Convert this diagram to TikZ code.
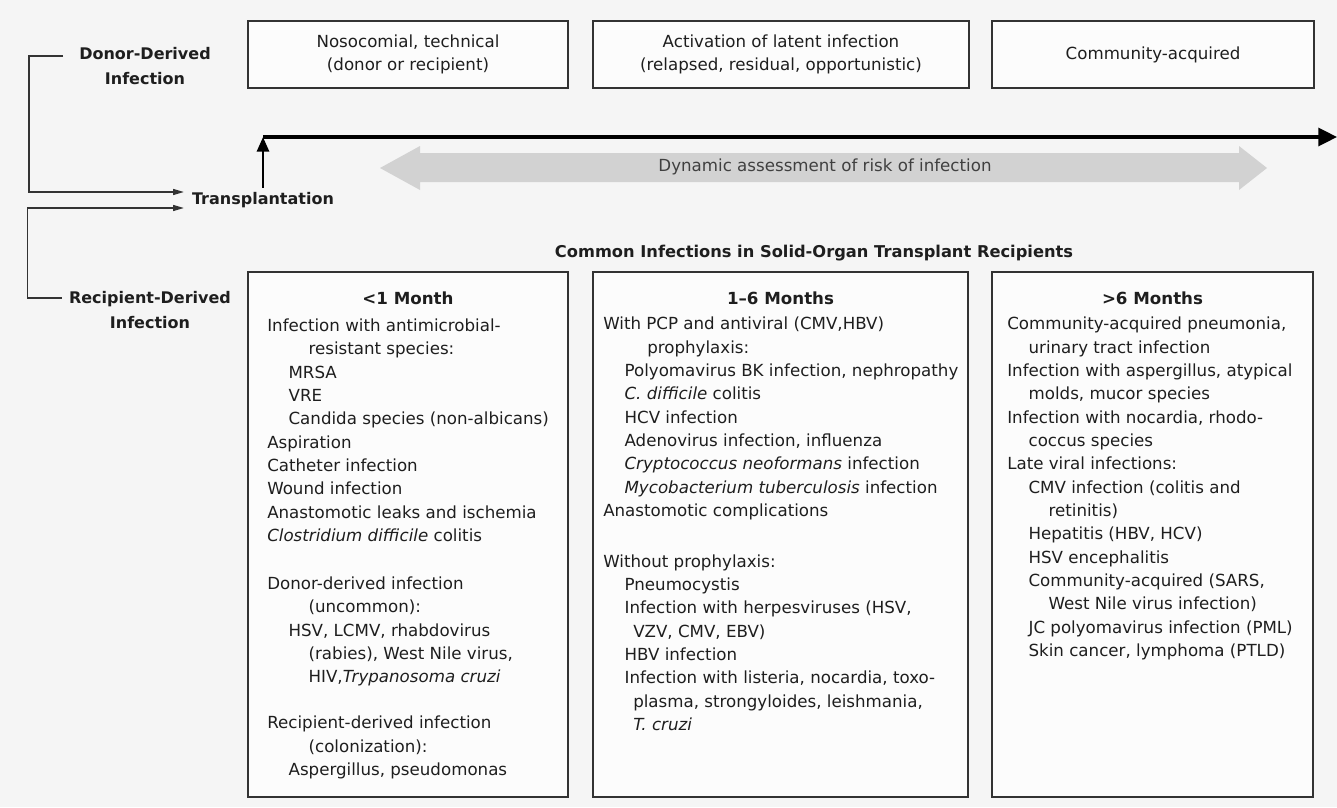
\documentclass[tikz,border=0pt]{standalone}
\usepackage{fontspec}
\setmainfont{DejaVu Sans}
\usetikzlibrary{positioning,calc,arrows.meta}

\definecolor{ink}{HTML}{1E1E1E}
\definecolor{rule}{HTML}{333333}
\definecolor{paper}{HTML}{F5F5F5}
\definecolor{boxfill}{HTML}{FCFCFC}
\definecolor{band}{HTML}{D2D2D2}

\newcommand{\bodyfont}{\fontsize{12.5}{17.5}\selectfont}
\newcommand{\headfont}{\bfseries\fontsize{12.5}{16}\selectfont}
\newcommand{\sidefont}{\bfseries\fontsize{12}{19}\selectfont}
\newcommand{\lvlA}{\hspace*{16pt}}
\newcommand{\lvlB}{\hspace*{31pt}}

\tikzset{
  topbox/.style={draw=rule, line width=1pt, fill=boxfill, minimum height=50.25pt,
    align=center, font=\bodyfont, text=ink},
  colbox/.style={draw=rule, line width=1pt, fill=boxfill, minimum height=393.75pt},
  colhead/.style={font=\headfont, text=ink, inner sep=0pt, anchor=base},
  itemlist/.style={anchor=north west, align=left, font=\bodyfont, text=ink, inner sep=0pt},
  sidelabel/.style={font=\sidefont, align=center, text=ink, inner sep=3pt},
  link/.style={draw=rule, line width=0.9pt, -{Triangle[length=8pt,width=4.5pt]}},
  riser/.style={draw=black, line width=2.2pt, -{Triangle[length=11pt,width=9pt]}},
  timeline/.style={draw=black, line width=2.4pt, -{Triangle[length=14pt,width=13.5pt]}},
}

\begin{document}
\begin{tikzpicture}[x=0.75pt, y=-0.75pt]
\fill[paper] (0,0) rectangle (1337,807);
\useasboundingbox (0,0) rectangle (1337,807);

% phases along the top
\node(nosocomial) [topbox, minimum width=240pt] at (408,54.5)
{Nosocomial, technical\\(donor or recipient)};
\node(latent) [topbox, minimum width=282pt] at (781,54.5)
{Activation of latent infection\\(relapsed, residual, opportunistic)};
\node(community) [topbox, minimum width=241.5pt] at (1153,54.5)
{Community-acquired};

% sources of infection
\node(donor) [sidelabel] at (145,66) {Donor-Derived\\Infection};
\node(recip) [sidelabel] at (150,310) {Recipient-Derived\\Infection};
\node(tx) [sidelabel] at (263,200) {Transplantation};

\draw[link] ($(donor.west)+(-12,-10)$) -- ++(-34,0) |- ($(tx.west)+(-4,-8)$);
\draw[link] ($(recip.west)+(-3,-12)$) -- ++(-34,0) |- ($(tx.west)+(-4,8)$);

% time axis
\coordinate(t0) at (263,137);
\coordinate(tend) at (1337,137);
\draw[timeline] (t0) -- (tend);
\draw[riser] (tx) -- (t0);

% risk band
\fill[band] (380,168) -- (420,146) -- (420,153) -- (1239,153) -- (1239,146)
  -- (1267,168) -- (1239,190) -- (1239,182) -- (420,182) -- (420,190) -- cycle;
\node(risk) [font=\bodyfont, text=ink!85] at (825,167)
{Dynamic assessment of risk of infection};

\node(title) [font=\bfseries\fontsize{12.2}{14}\selectfont, text=ink, anchor=base]
  at (814,257) {Common Infections in Solid-Organ Transplant Recipients};

% the three periods
\node(early) [colbox, minimum width=240pt] at (408,534.5) {};
\node(middle) [colbox, minimum width=281.25pt] at (780.5,534.5) {};
\node(late) [colbox, minimum width=240.75pt] at (1152.5,534.5) {};

\node(earlyhead) [colhead] at (408,304) {<1 Month};
\node(middlehead) [colhead] at (780.5,304) {1--6 Months};
\node(latehead) [colhead] at (1152.5,304) {>6 Months};

\node(earlylist) [itemlist] at (267,318.5)
{Infection with antimicrobial-\\
\lvlB resistant species:\\
\lvlA MRSA\\
\lvlA VRE\\
\lvlA Candida species (non-albicans)\\
Aspiration\\
Catheter infection\\
Wound infection\\
Anastomotic leaks and ischemia\\
\textit{Clostridium difficile} colitis\\[18.5pt]
Donor-derived infection\\
\lvlB (uncommon):\\
\lvlA HSV, LCMV, rhabdovirus\\
\lvlB (rabies), West Nile virus,\\
\lvlB HIV,\textit{Trypanosoma cruzi}\\[17pt]
Recipient-derived infection\\
\lvlB (colonization):\\
\lvlA Aspergillus, pseudomonas};

\node(middlelist) [itemlist] at (603,317)
{With PCP and antiviral (CMV,HBV)\\
\hspace*{33pt}prophylaxis:\\
\lvlA Polyomavirus BK infection, nephropathy\\
\lvlA \textit{C. difficile} colitis\\
\lvlA HCV infection\\
\lvlA Adenovirus infection, influenza\\
\lvlA \textit{Cryptococcus neoformans} infection\\
\lvlA \textit{Mycobacterium tuberculosis} infection\\
Anastomotic complications\\[20.5pt]
Without prophylaxis:\\
\lvlA Pneumocystis\\
\lvlA Infection with herpesviruses (HSV,\\
\hspace*{22.5pt}VZV, CMV, EBV)\\
\lvlA HBV infection\\
\lvlA Infection with listeria, nocardia, toxo-\\
\hspace*{22.5pt}plasma, strongyloides, leishmania,\\
\hspace*{22.5pt}\textit{T. cruzi}};

\node(latelist) [itemlist] at (1007,317)
{Community-acquired pneumonia,\\
\lvlA urinary tract infection\\
Infection with aspergillus, atypical\\
\lvlA molds, mucor species\\
Infection with nocardia, rhodo-\\
\lvlA coccus species\\
Late viral infections:\\
\lvlA CMV infection (colitis and\\
\lvlB retinitis)\\
\lvlA Hepatitis (HBV, HCV)\\
\lvlA HSV encephalitis\\
\lvlA Community-acquired (SARS,\\
\lvlB West Nile virus infection)\\
\lvlA JC polyomavirus infection (PML)\\
\lvlA Skin cancer, lymphoma (PTLD)};
\end{tikzpicture}
\end{document}
